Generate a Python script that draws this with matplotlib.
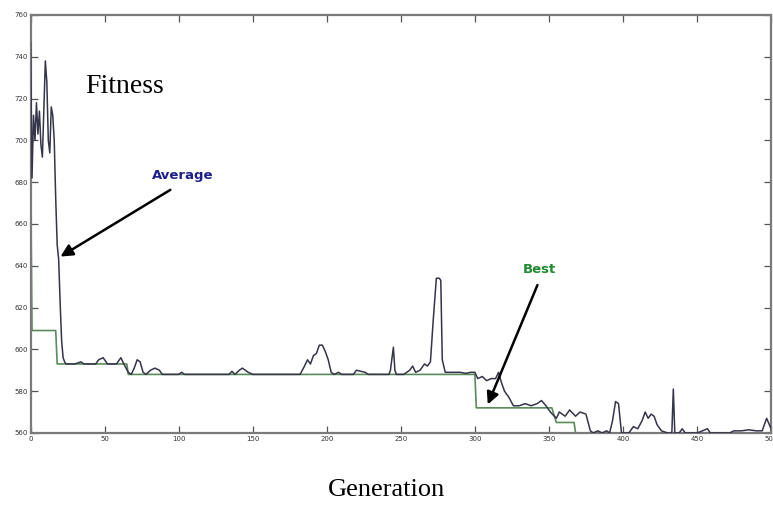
import matplotlib.pyplot as plt
import numpy as np

# --- datos ---
gen_avg = [0, 1, 2, 3, 4, 5, 6, 7, 8, 9, 10, 11, 12, 13, 14, 15, 16, 17, 18, 19,
           20, 21, 22, 23, 24, 30, 34, 36, 44, 46, 49, 52, 58, 61, 63, 66, 68, 70,
           72, 74, 76, 78, 81, 84, 87, 89, 100, 102, 104, 134, 136, 138, 141, 143,
           145, 147, 150, 182, 185, 187, 189, 191, 193, 195, 197, 199, 201, 203,
           205, 208, 210, 218, 220, 223, 226, 228, 242, 243, 245, 246, 247, 252,
           256, 258, 260, 263, 266, 268, 270, 272, 274, 276, 277, 278, 280, 290,
           294, 297, 300, 302, 305, 308, 311, 314, 316, 318, 320, 323, 326, 330,
           334, 338, 342, 345, 348, 351, 355, 357, 361, 364, 368, 371, 375, 378,
           380, 383, 386, 389, 391, 393, 395, 397, 399, 404, 407, 410, 413, 415,
           417, 419, 421, 423, 426, 430, 433, 434, 435, 438, 440, 442, 450, 452,
           457, 459, 472, 475, 480, 485, 490, 494, 497, 500]
fit_avg = [747, 682, 712, 700, 718, 703, 714, 698, 692, 715, 738, 728, 700, 694,
           716, 712, 700, 672, 650, 643, 622, 604, 596, 594, 593, 593, 594, 593,
           593, 595, 596, 593, 593, 596, 593, 589, 588, 591, 595, 594, 589, 588,
           590, 591, 590, 588, 588, 589, 588, 588, 589.5, 588, 590, 591, 590, 589,
           588, 588, 592, 595, 593, 597, 598, 602, 602, 599, 595, 589, 588, 589,
           588, 588, 590, 589.5, 589, 588, 588, 590, 601, 590, 588, 588, 590, 592,
           589, 590, 593, 592, 594, 615, 634, 634, 633, 595, 589, 589, 588.5, 589,
           589, 586, 587, 585, 586, 586, 589, 584, 580, 577, 573, 573, 574, 573,
           574, 575.5, 573, 570, 567, 570, 568, 571, 568, 570, 569, 561, 560, 561,
           560, 561, 560, 566, 575, 574, 560, 560, 563, 562, 566, 570, 567, 569,
           568, 564, 561, 560, 560, 581, 560, 560, 562, 560, 560, 560.5, 562, 560,
           560, 561, 561, 561.5, 561, 561, 567, 562]

gen_best = [0, 1, 17, 18, 65, 66, 300, 301, 352, 355, 367, 368, 500]
fit_best = [690, 609, 609, 593, 593, 588, 588, 572, 572, 565, 565, 560, 560]

fig = plt.figure(figsize=(7.73, 5.16), dpi=100)
ax = fig.add_axes([0.0395, 0.161, 0.958, 0.810])

ax.plot(gen_best, fit_best, color='#5b8a5b', lw=1.2, zorder=2)
ax.plot(gen_avg, fit_avg, color='#34344a', lw=1.1, zorder=3)

ax.set_xlim(0, 500)
ax.set_ylim(560, 760)
ax.set_xticks(np.arange(0, 501, 50))
ax.set_yticks(np.arange(560, 761, 20))
ax.tick_params(direction='in', length=5, width=0.9, color='#555555',
               labelsize=5, labelcolor='#333333', top=True, right=True, pad=2)
for sp in ax.spines.values():
    sp.set_color('#7a7a7a')
    sp.set_linewidth(1.6)

# textos
ax.text(37, 726, 'Fitness', fontsize=20, family='Liberation Serif', va='center')
fig.text(0.5, 0.05, 'Generation', fontsize=19, family='Liberation Serif', ha='center', va='center')

ax.annotate('', xy=(18.6, 643.7), xytext=(96, 677),
            arrowprops=dict(arrowstyle='-|>', color='black', lw=1.8, mutation_scale=18))
ax.text(103, 683, 'Average', fontsize=9.5, fontweight='bold', color='#1e1e8a',
        ha='center', va='center')

ax.annotate('', xy=(308, 572.4), xytext=(343, 632),
            arrowprops=dict(arrowstyle='-|>', color='black', lw=1.8, mutation_scale=18))
ax.text(343.5, 638, 'Best', fontsize=9.5, fontweight='bold', color='#1e8a2e',
        ha='center', va='center')

fig.savefig('out.png', dpi=100)
